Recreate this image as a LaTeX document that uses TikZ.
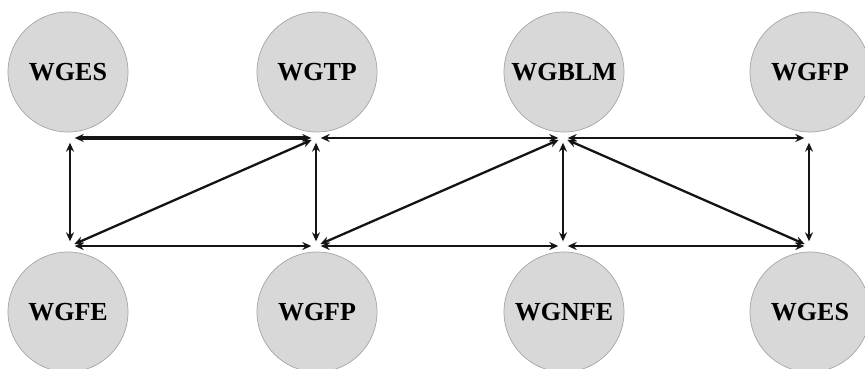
\documentclass[tikz,border=0pt]{standalone}
\usepackage{fontspec}
\setmainfont{Liberation Serif}
\usetikzlibrary{arrows.meta}
\definecolor{nodegray}{RGB}{216,216,216}
\definecolor{rimgray}{RGB}{165,165,165}
\definecolor{linkblack}{RGB}{20,20,20}
\begin{document}
\begin{tikzpicture}[x=1pt,y=-1pt,
  agent/.style={circle, minimum size=120pt, inner sep=0pt, fill=nodegray,
    draw=rimgray, line width=0.7pt, font=\bfseries\fontsize{26}{29}\selectfont},
  port/.style={circle, minimum size=9pt, inner sep=0pt},
  link/.style={{Stealth[length=9pt,width=8pt]}-{Stealth[length=9pt,width=8pt]},
    line width=2.3pt, draw=linkblack}]
\useasboundingbox (0,0) rectangle (865,369);
\clip (0,0) rectangle (865,369);

% agents, upper row
\node[agent] (t1) at (68,72)  {WGES};
\node[agent] (t2) at (317,72) {WGTP};
\node[agent] (t3) at (564,72) {WGBLM};
\node[agent] (t4) at (810,72) {WGFP};
% agents, lower row
\node[agent] (b1) at (68,312)  {WGFE};
\node[agent] (b2) at (317,312) {WGFP};
\node[agent] (b3) at (564,312) {WGNFE};
\node[agent] (b4) at (810,312) {WGES};

% link ports below / above each agent
\node[port] (pt1) at (70,138)  {};
\node[port] (pt2) at (316,138) {};
\node[port] (pt3) at (563,138) {};
\node[port] (pt4) at (809,138) {};
\node[port] (pb1) at (70,246)  {};
\node[port] (pb2) at (316,246) {};
\node[port] (pb3) at (563,246) {};
\node[port] (pb4) at (809,246) {};

% upper links
\draw[link, line width=3.2pt] (pt1) -- (pt2);
\draw[link] (pt2) -- (pt3);
\draw[link] (pt3) -- (pt4);
% lower links
\draw[link] (pb1) -- (pb2);
\draw[link] (pb2) -- (pb3);
\draw[link] (pb3) -- (pb4);
% vertical links
\draw[link] (pt1) -- (pb1);
\draw[link] (pt2) -- (pb2);
\draw[link] (pt3) -- (pb3);
\draw[link] (pt4) -- (pb4);
% diagonal links
\draw[link] (pb1) -- (pt2);
\draw[link] (pb2) -- (pt3);
\draw[link] (pt3) -- (pb4);
\end{tikzpicture}
\end{document}
